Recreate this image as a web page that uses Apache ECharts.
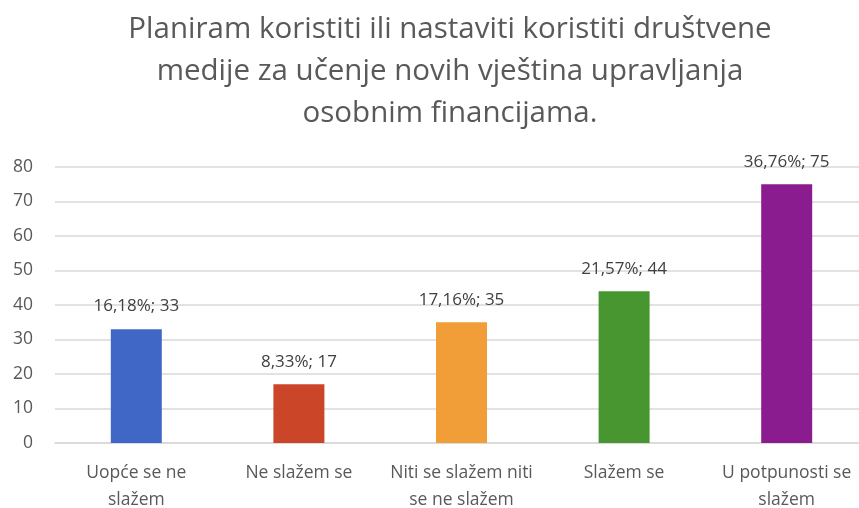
<!DOCTYPE html>
<html><head><meta charset="utf-8">
<script src="https://cdn.jsdelivr.net/npm/echarts@6/dist/echarts.min.js"></script>
<style>html,body{margin:0;padding:0;background:#fff}#c{width:859px;height:508px}</style>
</head><body><div id="c"></div>
<script>
const titleText = "Planiram koristiti ili nastaviti koristiti društvene\nmedije za učenje novih vještina upravljanja\nosobnim financijama.";
const categories = ["Uopće se ne\nslažem", "Ne slažem se", "Niti se slažem niti\nse ne slažem", "Slažem se", "U potpunosti se\nslažem"];
const counts = [33, 17, 35, 44, 75];
const percents = ["16,18%", "8,33%", "17,16%", "21,57%", "36,76%"];
const colors = ["#4167C6", "#CB4628", "#F29E38", "#47962F", "#8A1C90"];
const yTicks = {min: 0, max: 80, interval: 10};

const chart = echarts.init(document.getElementById('c'), null, {renderer: 'canvas'});
chart.setOption({
  animation: false,
  title: {
    text: titleText, left: 445, top: 4, textAlign: 'center',
    textStyle: {fontFamily: 'Open Sans', fontSize: 29.5, fontWeight: 'normal', color: '#595959', lineHeight: 42}
  },
  grid: {left: 55, width: 813, top: 167, bottom: 65, containLabel: false, outerBoundsMode: 'none'},
  xAxis: {
    type: 'category', data: categories,
    axisLine: {show: true, lineStyle: {color: '#d9d9d9', width: 1.5}},
    axisTick: {show: false},
    axisLabel: {fontFamily: 'Open Sans', fontSize: 17.5, color: '#595959', margin: 17, lineHeight: 27, interval: 0}
  },
  yAxis: {
    type: 'value', min: yTicks.min, max: yTicks.max, interval: yTicks.interval,
    axisLine: {show: false}, axisTick: {show: false},
    splitLine: {lineStyle: {color: '#d9d9d9', width: 1.5}},
    axisLabel: {fontFamily: 'Open Sans', fontSize: 17.5, color: '#595959', margin: 22}
  },
  series: [{
    type: 'bar', barWidth: 51,
    data: counts.map((v, i) => ({value: v, itemStyle: {color: colors[i]}})),
    label: {
      show: true, position: 'top', distance: 14,
      fontFamily: 'Open Sans', fontSize: 17, color: '#404040',
      formatter: p => percents[p.dataIndex] + '; ' + p.value
    }
  }]
});
</script></body></html>
